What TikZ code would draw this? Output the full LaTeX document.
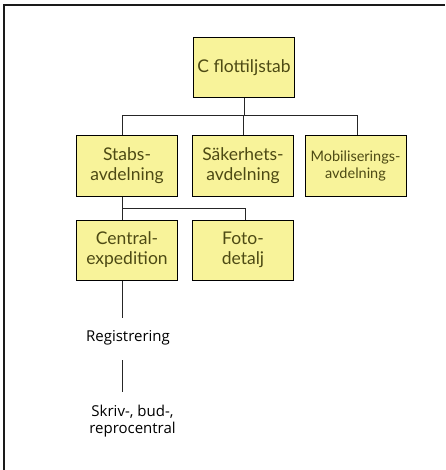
\documentclass[tikz,border=0pt]{standalone}
\usepackage{fontspec}
\setmainfont{Lato}
\newfontfamily\plainfont{Open Sans}
\definecolor{boxfill}{HTML}{F8F39A}
\definecolor{boxtext}{HTML}{4D4A14}
\definecolor{frameline}{HTML}{1A1A1A}
\begin{document}
\begin{tikzpicture}[x=1pt,y=-1pt,
  orgbox/.style={draw=black, line width=1pt, fill=boxfill, text=boxtext,
    minimum width=101pt, minimum height=60pt, inner sep=0pt, align=center,
    font=\fontsize{17.5}{20}\selectfont},
  plain/.style={align=center, text=black, inner sep=0pt,
    font=\plainfont\fontsize{15}{17.5}\selectfont},
  link/.style={draw=black!85, line width=1pt}]
\useasboundingbox (0,0) rectangle (445,470);
\draw[frameline, line width=2pt] (4,470) -- (4,5) -- (445,5);

\node[orgbox] (top) at (244,68) {C flottiljstab};
\node[orgbox] (stab) at (127,166) {Stabs-\\avdelning};
\node[orgbox] (sak) at (243,166) {Säkerhets-\\avdelning};
\node[orgbox, font=\fontsize{14.5}{17}\selectfont] (mob) at (355.5,166) {Mobiliserings-\\avdelning};
\node[orgbox] (cen) at (127,250) {Central-\\expedition};
\node[orgbox] (foto) at (243,250) {Foto-\\detalj};
\node[plain] (reg) at (128,338) {Registrering};
\node[plain] (skr) at (132.5,421) {Skriv-, bud-,\\reprocentral};

\coordinate (bus1) at (244,116);
\coordinate (bus2) at (122,208);

\draw[link] (top.south) -- (bus1);
\draw[link] (bus1) -| (stab.north -| 122,0);
\draw[link] (bus1) -| (sak.north);
\draw[link] (bus1) -| (mob.north -| 357,0);
\draw[link] (stab.south -| 122,0) -- (bus2);
\draw[link] (bus2) -- (cen.north -| 122,0);
\draw[link] (bus2) -| (foto.north -| 245,0);
\draw[link] (cen.south -| 122,0) -- (122,318);
\draw[link] (122,360) -- (122,392);
\end{tikzpicture}
\end{document}
